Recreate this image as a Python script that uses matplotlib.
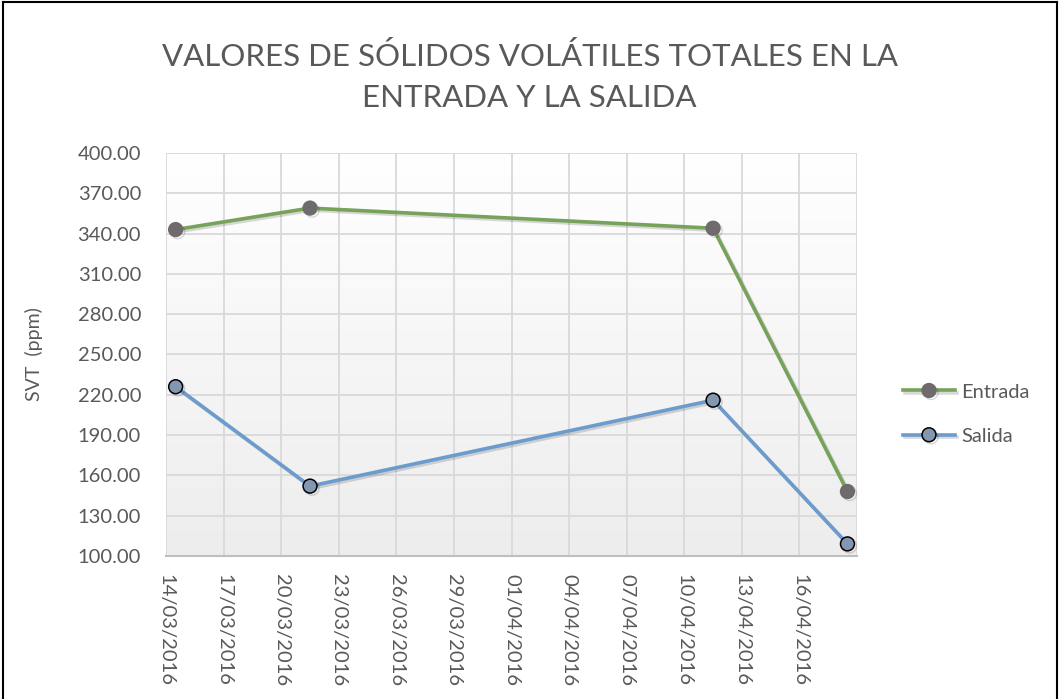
import matplotlib
matplotlib.use("Agg")
import matplotlib.pyplot as plt
import matplotlib.dates as mdates
from matplotlib.lines import Line2D
from matplotlib.colors import LinearSegmentedColormap
import matplotlib.patheffects as pe
import numpy as np
import datetime as dt

# ---- data ----
dates = ["2016-03-14", "2016-03-21", "2016-04-11", "2016-04-18"]
entrada = [343.0, 359.0, 344.0, 148.0]
salida = [226.0, 152.0, 216.0, 109.0]
series_names = ["Entrada", "Salida"]
title = "VALORES DE SÓLIDOS VOLÁTILES TOTALES EN LA\nENTRADA Y LA SALIDA"
ylabel = "SVT  (ppm)"
x_start, x_end = "2016-03-14", "2016-04-19"
y_ticks = list(range(100, 401, 30))

plt.rcParams['font.family'] = ['Lato', 'DejaVu Sans']
text_color = "#595959"

fig = plt.figure(figsize=(10.59, 6.99), dpi=100)
ax = fig.add_axes([0.1568, 0.2046, 0.8093 - 0.1568, 0.7811 - 0.2046])

# Excel date axis: points sit in the middle of the day
xs = [dt.datetime.strptime(d, "%Y-%m-%d") + dt.timedelta(hours=12) for d in dates]
x0 = dt.datetime.strptime(x_start, "%Y-%m-%d")
x1 = dt.datetime.strptime(x_end, "%Y-%m-%d")

# gradient background
grad = np.linspace(0, 1, 256).reshape(-1, 1)
cmap = LinearSegmentedColormap.from_list("bg", ["#ffffff", "#ededed"])
ax.imshow(grad, aspect="auto", cmap=cmap, extent=[0, 1, 0, 1], transform=ax.transAxes,
          origin="upper", zorder=0)

shadow = [pe.SimpleLineShadow(offset=(1.5, -1.5), shadow_color="#000000", alpha=0.15), pe.Normal()]

ax.plot(xs, entrada, color="#76a25a", lw=2.6, marker="o", markersize=10,
        markerfacecolor="#6f6a6b", markeredgecolor="#6f6a6b", label=series_names[0],
        zorder=3, path_effects=shadow)
ax.plot(xs, salida, color="#6c9bcd", lw=2.6, marker="o", markersize=10,
        markerfacecolor="#8497b0", markeredgecolor="#000000", markeredgewidth=1.1,
        label=series_names[1], zorder=3, path_effects=shadow)

ax.set_xlim(x0, x1)
ax.set_ylim(100, 400)
ax.set_yticks(y_ticks)
ax.yaxis.set_major_formatter(matplotlib.ticker.FormatStrFormatter("%.2f"))
xt = [x0 + dt.timedelta(days=3 * i) for i in range(12)]
ax.set_xticks(xt)
ax.xaxis.set_major_formatter(mdates.DateFormatter("%d/%m/%Y"))

ax.grid(True, color="#d9d9d9", lw=1.3, zorder=1)
ax.set_axisbelow(True)
for s in ["top", "right", "left"]:
    ax.spines[s].set_visible(False)
ax.spines["bottom"].set_color("#bfbfbf")
ax.spines["bottom"].set_linewidth(1.5)
ax.axvline(x1, color="#d9d9d9", lw=1.3, zorder=1)

ax.tick_params(axis="both", length=0, colors=text_color, labelsize=14.5)
ax.tick_params(axis="y", pad=18)
ax.tick_params(axis="x", pad=13)
for lab in ax.get_xticklabels():
    lab.set_rotation(-90)
    lab.set_va("top")
    lab.set_ha("center")

ax.set_ylabel(ylabel, color=text_color, fontsize=14, labelpad=25)

fig.suptitle(title, color=text_color, fontsize=22.5, y=1 - 77 / 699, va="center",
             linespacing=1.55, fontweight="normal")

leg = ax.legend(loc="center left", bbox_to_anchor=(1.04, 0.352), frameon=False,
                fontsize=14.5, labelcolor=text_color, handlelength=2.6, labelspacing=1.35,
                handletextpad=0.3)

# figure border (chart frame)
for coords in [([3/1059, 3/1059], [0, 1 - 2/699]),
               ([3/1059, 1057/1059], [1 - 2/699, 1 - 2/699]),
               ([1057/1059, 1057/1059], [0, 1 - 2/699])]:
    fig.add_artist(Line2D(coords[0], coords[1], color="black", lw=1.5, transform=fig.transFigure))

fig.savefig("out.png", dpi=100, facecolor="white")
